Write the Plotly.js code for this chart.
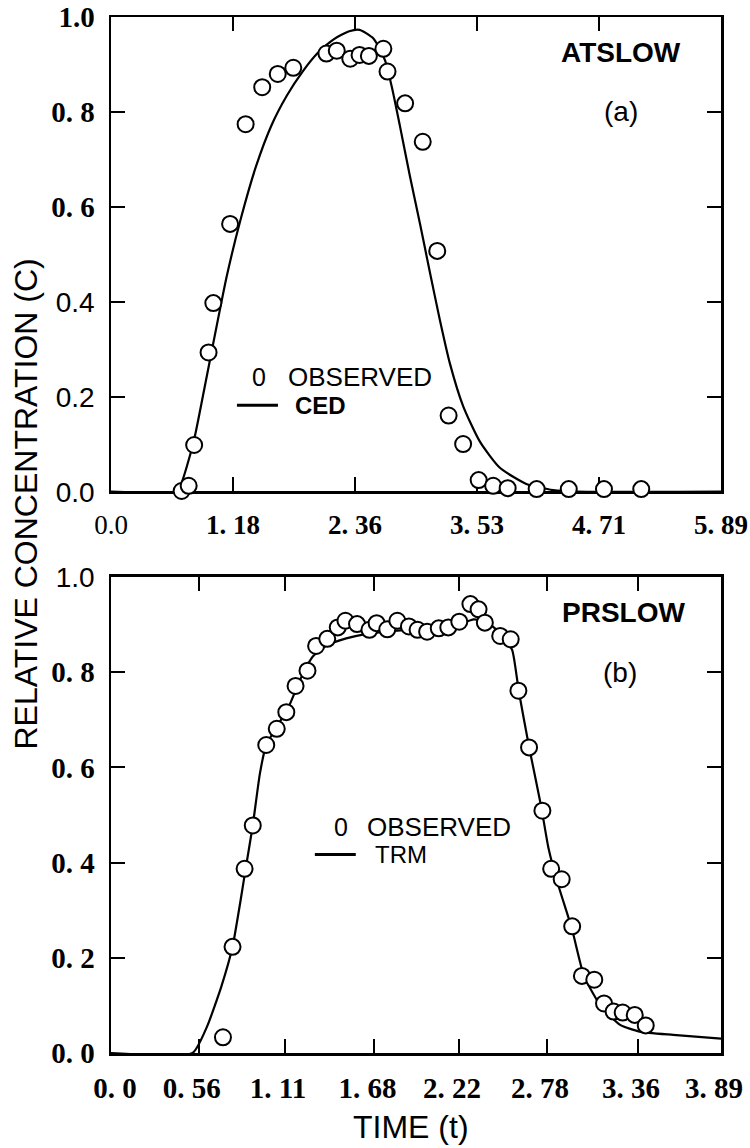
<!DOCTYPE html>
<html>
<head>
<meta charset="utf-8">
<script src="https://cdn.plot.ly/plotly-3.0.1.min.js"></script>
<style>html,body{margin:0;padding:0;background:#fff;}#chart{width:750px;height:1148px;}</style>
</head>
<body>
<div id="chart"></div>
<script>
// ---- Panel (a) ATSLOW: observed + CED fit ----
var ced_obs_t = [0.682, 0.75, 0.803, 0.942, 0.988, 1.15, 1.30, 1.46, 1.61, 1.76, 2.08, 2.18, 2.31, 2.40, 2.49, 2.63, 2.67, 2.84, 3.01, 3.15, 3.26, 3.40, 3.55, 3.69, 3.83, 4.11, 4.42, 4.76, 5.12];
var ced_obs_c = [0.001, 0.012, 0.098, 0.293, 0.397, 0.564, 0.774, 0.852, 0.880, 0.893, 0.923, 0.929, 0.912, 0.920, 0.918, 0.933, 0.885, 0.818, 0.737, 0.507, 0.160, 0.100, 0.024, 0.012, 0.007, 0.005, 0.005, 0.005, 0.005];
var ced_fit_t = [0, 0.62, 0.666, 0.795, 0.924, 1.117, 1.25, 1.40, 1.55, 1.70, 1.85, 2.00, 2.15, 2.30, 2.40, 2.532, 2.645, 2.709, 2.79, 2.886, 2.983, 3.079, 3.176, 3.272, 3.40, 3.562, 3.755, 4.01, 4.27, 4.5, 5.89];
var ced_fit_c = [0, 0, 0.01, 0.102, 0.242, 0.453, 0.572, 0.685, 0.772, 0.835, 0.885, 0.925, 0.953, 0.970, 0.973, 0.955, 0.909, 0.855, 0.770, 0.665, 0.565, 0.462, 0.361, 0.270, 0.180, 0.105, 0.050, 0.016, 0.003, 0, 0];

// ---- Panel (b) PRSLOW: observed + TRM fit ----
var trm_obs_t = [0.714, 0.775, 0.852, 0.904, 0.990, 1.057, 1.118, 1.177, 1.253, 1.308, 1.379, 1.446, 1.495, 1.569, 1.648, 1.694, 1.762, 1.826, 1.900, 1.955, 2.016, 2.090, 2.151, 2.221, 2.292, 2.344, 2.384, 2.482, 2.549, 2.598, 2.666, 2.751, 2.807, 2.874, 2.941, 3.003, 3.082, 3.144, 3.205, 3.263, 3.340, 3.410];
var trm_obs_c = [0.033, 0.223, 0.387, 0.478, 0.647, 0.681, 0.716, 0.771, 0.803, 0.855, 0.870, 0.894, 0.908, 0.901, 0.889, 0.903, 0.890, 0.908, 0.896, 0.889, 0.885, 0.892, 0.894, 0.906, 0.943, 0.932, 0.904, 0.876, 0.869, 0.761, 0.642, 0.509, 0.387, 0.365, 0.266, 0.162, 0.154, 0.104, 0.087, 0.085, 0.080, 0.058];
var trm_fit_t = [0, 0.52, 0.613, 0.704, 0.775, 0.827, 0.86, 0.904, 0.95, 0.99, 1.057, 1.134, 1.21, 1.287, 1.379, 1.50, 1.624, 1.746, 1.90, 2.053, 2.206, 2.313, 2.39, 2.482, 2.558, 2.60, 2.666, 2.742, 2.79, 2.85, 2.94, 3.017, 3.125, 3.247, 3.37, 3.585, 3.89];
var trm_fit_c = [0, 0, 0.056, 0.14, 0.223, 0.322, 0.39, 0.478, 0.588, 0.647, 0.685, 0.728, 0.787, 0.833, 0.857, 0.871, 0.88, 0.885, 0.889, 0.892, 0.899, 0.911, 0.906, 0.883, 0.847, 0.761, 0.643, 0.52, 0.43, 0.355, 0.26, 0.161, 0.098, 0.059, 0.045, 0.038, 0.03];

// ---- Tick labels ----
var SANS = 'font-family:Liberation Sans;font-weight:normal;font-size:28px';
var top_x_vals = [0, 1.178, 2.356, 3.534, 4.712, 5.89];
var top_x_text = ['<span style="font-weight:normal">0.0</span>', '1. 18', '2. 36', '3. 53', '4. 71', '5. 89'];
var bot_x_vals = [0, 0.56, 1.11, 1.68, 2.22, 2.78, 3.36, 3.89];
var bot_x_text = ['\u00a0\u00a0\u00a00. 0', '0. 56', '1. 11', '1. 68', '2. 22', '2. 78', '3. 36', '3. 89'];
var y_vals = [0, 0.2, 0.4, 0.6, 0.8, 1.0];
var top_y_text = ['<span style="' + SANS + '">0.0</span>', '<span style="' + SANS + '">0.2</span>', '<span style="' + SANS + '">0.4</span>', '0. 6', '0. 8', '1.0'];
var bot_y_text = ['0. 0', '0. 2', '0. 4', '0. 6', '0. 8', '<span style="' + SANS + '">1.0</span>'];

var markerStyle = {symbol: 'circle', size: 16, color: '#ffffff', line: {color: '#000000', width: 2}};

var traces = [
  {x: ced_fit_t, y: ced_fit_c, xaxis: 'x', yaxis: 'y', mode: 'lines', line: {color: '#000', width: 2.2, shape: 'spline', smoothing: 0.6}, hoverinfo: 'skip'},
  {x: ced_obs_t, y: ced_obs_c, xaxis: 'x', yaxis: 'y', mode: 'markers', marker: markerStyle, cliponaxis: false},
  {x: trm_fit_t, y: trm_fit_c, xaxis: 'x2', yaxis: 'y2', mode: 'lines', line: {color: '#000', width: 2.2, shape: 'spline', smoothing: 0.5}, hoverinfo: 'skip'},
  {x: trm_obs_t, y: trm_obs_c, xaxis: 'x2', yaxis: 'y2', mode: 'markers', marker: markerStyle, cliponaxis: false}
];

var tickFont = {family: 'Liberation Serif', size: 29, color: '#000', weight: 'bold'};
var axisCommon = {
  showgrid: false, zeroline: false, showline: true, linecolor: '#000', linewidth: 2.5,
  mirror: 'ticks', ticks: 'inside', ticklen: 14, tickwidth: 2, tickcolor: '#000',
  tickmode: 'array', tickfont: tickFont, layer: 'below traces', fixedrange: true
};
var SANSF = 'Liberation Sans, Arial, sans-serif';

var layout = {
  width: 750, height: 1148,
  margin: {l: 111, r: 29, t: 17, b: 95, pad: 0},
  paper_bgcolor: '#fff', plot_bgcolor: '#fff',
  showlegend: false,
  xaxis: Object.assign({}, axisCommon, {anchor: 'y', domain: [0, 1], range: [0, 5.89], tickvals: top_x_vals, ticktext: top_x_text, ticklabelstandoff: 8, tickfont: Object.assign({}, tickFont, {size: 27})}),
  yaxis: Object.assign({}, axisCommon, {anchor: 'x', domain: [0.542, 1], range: [0, 1.0], tickvals: y_vals, ticktext: top_y_text, ticklabelstandoff: 8}),
  xaxis2: Object.assign({}, axisCommon, {anchor: 'y2', domain: [0, 1], range: [0, 3.89], tickvals: bot_x_vals, ticktext: bot_x_text, ticklabelstandoff: 8, ticklabelshift: -7}),
  yaxis2: Object.assign({}, axisCommon, {anchor: 'x2', domain: [0, 0.4595], range: [0, 1.0], tickvals: y_vals, ticktext: bot_y_text, ticklabelstandoff: 8}),
  annotations: [
    {xref: 'paper', yref: 'paper', x: -0.14, y: 0.53, xanchor: 'center', yanchor: 'middle', textangle: -90, showarrow: false,
      text: 'RELATIVE CONCENTRATION (C)', font: {family: SANSF, size: 32, color: '#000'}},
    {xref: 'paper', yref: 'paper', x: 0.492, y: -0.0714, xanchor: 'center', yanchor: 'middle', showarrow: false,
      text: 'TIME (t)', font: {family: SANSF, size: 32, color: '#000'}},
    {xref: 'x', yref: 'y', x: 4.92, y: 0.925, showarrow: false, text: 'ATSLOW', font: {family: SANSF, size: 28, weight: 'bold', color: '#000'}},
    {xref: 'x', yref: 'y', x: 4.92, y: 0.80, showarrow: false, text: '(a)', font: {family: SANSF, size: 28, color: '#000'}},
    {xref: 'x', yref: 'y', x: 1.342, y: 0.241, xanchor: 'left', showarrow: false, text: '0', font: {family: SANSF, size: 25, color: '#000'}},
    {xref: 'x', yref: 'y', x: 1.689, y: 0.241, xanchor: 'left', showarrow: false, text: 'OBSERVED', font: {family: SANSF, size: 26, color: '#000'}},
    {xref: 'x', yref: 'y', x: 1.757, y: 0.182, xanchor: 'left', showarrow: false, text: 'CED', font: {family: SANSF, size: 24, weight: 'bold', color: '#000'}},
    {xref: 'x2', yref: 'y2', x: 3.27, y: 0.925, showarrow: false, text: 'PRSLOW', font: {family: SANSF, size: 28, weight: 'bold', color: '#000'}},
    {xref: 'x2', yref: 'y2', x: 3.244, y: 0.80, showarrow: false, text: '(b)', font: {family: SANSF, size: 28, color: '#000'}},
    {xref: 'x2', yref: 'y2', x: 1.409, y: 0.475, xanchor: 'left', showarrow: false, text: '0', font: {family: SANSF, size: 25, color: '#000'}},
    {xref: 'x2', yref: 'y2', x: 1.619, y: 0.475, xanchor: 'left', showarrow: false, text: 'OBSERVED', font: {family: SANSF, size: 26, color: '#000'}},
    {xref: 'x2', yref: 'y2', x: 1.67, y: 0.417, xanchor: 'left', showarrow: false, text: 'TRM', font: {family: SANSF, size: 24, color: '#000'}}
  ],
  shapes: [
    {type: 'line', xref: 'x', yref: 'y', x0: 1.216, x1: 1.612, y0: 0.182, y1: 0.182, line: {color: '#000', width: 3}},
    {type: 'line', xref: 'x2', yref: 'y2', x0: 1.30, x1: 1.561, y0: 0.417, y1: 0.417, line: {color: '#000', width: 3}}
  ]
};

Plotly.newPlot('chart', traces, layout, {displayModeBar: false, staticPlot: true});
</script>
</body>
</html>
